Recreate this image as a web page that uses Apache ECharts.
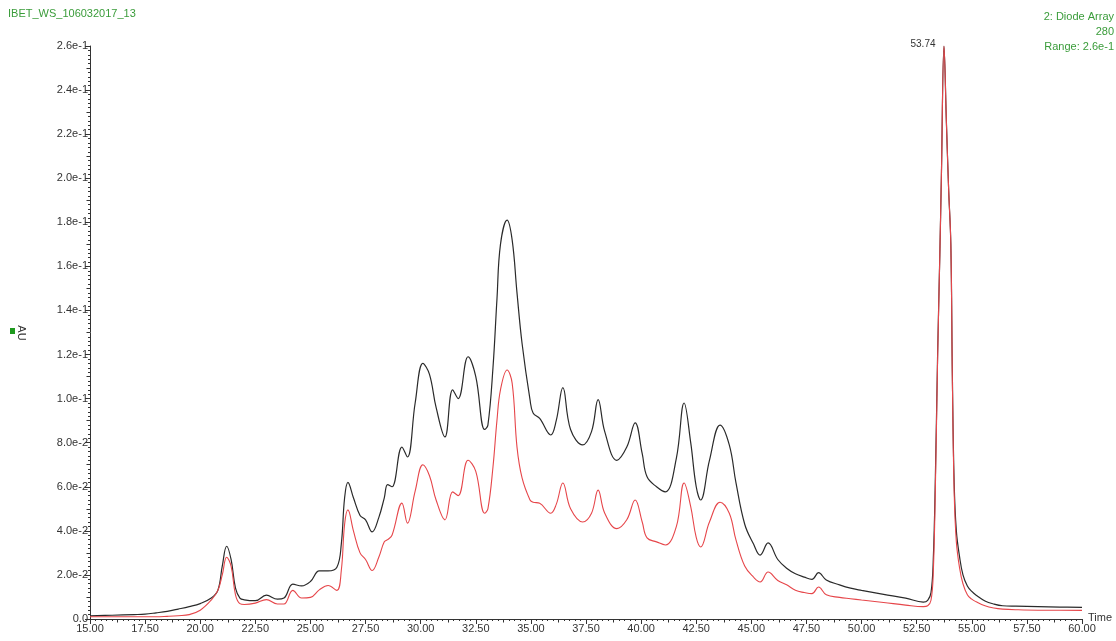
<!DOCTYPE html>
<html>
<head>
<meta charset="utf-8">
<script src="https://cdn.jsdelivr.net/npm/echarts@6/dist/echarts.min.js"></script>
<style>html,body{margin:0;padding:0;background:#fff;}#c{width:1116px;height:641px;}</style>
</head>
<body>
<div id="c"></div>
<script>
// Retention time (min)
var timeMin = [15.0,16.0,17.0,17.5,18.0,18.5,19.0,19.5,20.0,20.5,20.8,21.0,21.2,21.4,21.6,21.8,22.0,22.5,23.0,23.5,23.8,24.2,24.6,25.0,25.4,25.8,26.2,26.4,26.55,26.7,26.95,27.25,27.5,27.8,28.1,28.35,28.5,28.7,29.15,29.4,29.75,30.1,30.4,30.7,31.1,31.45,31.7,32.15,32.5,32.9,33.05,33.28,33.46,33.62,33.92,34.15,34.37,34.6,34.96,35.1,35.4,35.9,36.15,36.45,36.8,37.35,37.75,38.05,38.35,38.9,39.35,39.73,40.05,40.27,40.7,41.1,41.6,41.95,42.25,42.5,42.7,43.1,43.58,44.0,44.3,44.7,45.1,45.4,45.76,46.2,46.6,47.0,47.4,47.75,48.05,48.4,49.0,49.5,50.0,51.0,52.0,52.8,53.0,53.15,53.25,53.35,53.45,53.55,53.62,53.74,53.85,53.95,54.05,54.12,54.2,54.3,54.45,54.6,54.8,55.0,55.2,55.6,56.0,56.4,57.0,58.0,59.0,60.0];
// Black trace (AU)
var blackAU = [0.0014,0.0017,0.0020,0.0022,0.0028,0.0035,0.0045,0.0056,0.0070,0.0095,0.0130,0.0240,0.0330,0.0270,0.0140,0.0095,0.0087,0.0083,0.0108,0.0090,0.0095,0.0158,0.0150,0.0170,0.0218,0.0218,0.0235,0.0340,0.0550,0.0620,0.0550,0.0470,0.0450,0.0395,0.0460,0.0550,0.0610,0.0600,0.0780,0.0735,0.0980,0.1160,0.1110,0.0960,0.0826,0.1040,0.1000,0.1190,0.1100,0.0860,0.0880,0.1140,0.1450,0.1700,0.1810,0.1720,0.1480,0.1250,0.0995,0.0935,0.0910,0.0835,0.0900,0.1050,0.0860,0.0790,0.0850,0.0995,0.0850,0.0720,0.0780,0.0890,0.0750,0.0645,0.0600,0.0577,0.0730,0.0980,0.0800,0.0600,0.0540,0.0720,0.0880,0.0790,0.0620,0.0430,0.0340,0.0290,0.0345,0.0270,0.0230,0.0205,0.0190,0.0180,0.0210,0.0177,0.0155,0.0140,0.0130,0.0112,0.0095,0.0077,0.0085,0.0120,0.0260,0.0650,0.1200,0.1650,0.2000,0.2600,0.2250,0.1950,0.1700,0.1100,0.0620,0.0400,0.0280,0.0200,0.0150,0.0125,0.0108,0.0082,0.0068,0.0060,0.0058,0.0056,0.0054,0.0053];
// Red trace (AU)
var redAU = [0.0010,0.0010,0.0010,0.0010,0.0010,0.0012,0.0015,0.0020,0.0040,0.0086,0.0130,0.0200,0.0280,0.0240,0.0110,0.0070,0.0066,0.0072,0.0088,0.0068,0.0068,0.0130,0.0095,0.0098,0.0132,0.0152,0.0130,0.0220,0.0430,0.0495,0.0400,0.0300,0.0270,0.0220,0.0280,0.0350,0.0360,0.0380,0.0526,0.0435,0.0580,0.0700,0.0650,0.0540,0.0450,0.0577,0.0560,0.0720,0.0670,0.0480,0.0500,0.0690,0.0900,0.1040,0.1130,0.1070,0.0780,0.0640,0.0540,0.0530,0.0525,0.0480,0.0520,0.0617,0.0500,0.0440,0.0480,0.0585,0.0480,0.0410,0.0450,0.0540,0.0440,0.0368,0.0350,0.0336,0.0420,0.0617,0.0510,0.0370,0.0327,0.0440,0.0530,0.0480,0.0360,0.0240,0.0190,0.0168,0.0213,0.0175,0.0155,0.0130,0.0120,0.0115,0.0145,0.0110,0.0098,0.0092,0.0086,0.0075,0.0063,0.0056,0.0060,0.0085,0.0200,0.0600,0.1180,0.1650,0.2000,0.2600,0.2250,0.1950,0.1700,0.1080,0.0580,0.0350,0.0230,0.0160,0.0110,0.0090,0.0078,0.0060,0.0050,0.0045,0.0042,0.0040,0.0040,0.0039];
// Axis ranges / tick steps
var xRange = [15, 60], xStep = 2.5;
var yRange = [0, 0.26], yStep = 0.02;
var titleLeft = 'IBET_WS_106032017_13';
var titleRight = ['2: Diode Array', '280', 'Range: 2.6e-1'];
var peakLabel = '53.74';
var xName = 'Time', yName = 'AU';

function pairs(ys){ return timeMin.map(function(t,i){ return [t, ys[i]]; }); }
var apexIdx = blackAU.indexOf(Math.max.apply(null, blackAU));

var FONT = 'Liberation Sans, Arial, sans-serif';
var GREEN = '#3a9c3a';
var chart = echarts.init(document.getElementById('c'), null, {renderer:'canvas'});
chart.setOption({
  animation: false,
  backgroundColor: '#fff',
  grid: {left: 90, right: 34, top: 46, bottom: 22, containLabel: false, outerBoundsMode: 'none'},
  xAxis: [{
    type: 'value', min: xRange[0], max: xRange[1], interval: xStep,
    axisLine: {show: true, lineStyle: {color: '#333', width: 1}},
    axisTick: {show: true, length: 5, lineStyle: {color: '#333'}},
    minorTick: {show: true, splitNumber: 10, length: 2, lineStyle: {color: '#333'}},
    axisLabel: {fontFamily: FONT, fontSize: 11, color: '#333', margin: 4,
      formatter: function(v){ return v.toFixed(2); }},
    splitLine: {show: false}
  },{
    type: 'value', min: xRange[0], max: xRange[1], interval: xStep/2, position: 'bottom',
    axisLine: {show: false}, axisLabel: {show: false}, splitLine: {show: false},
    axisTick: {show: true, length: 3.5, lineStyle: {color: '#333'}}
  }],
  yAxis: [{
    type: 'value', min: yRange[0], max: yRange[1], interval: yStep,
    axisLine: {show: true, lineStyle: {color: '#333', width: 1}},
    axisTick: {show: true, length: 5, lineStyle: {color: '#333'}},
    minorTick: {show: true, splitNumber: 10, length: 2, lineStyle: {color: '#333'}},
    axisLabel: {fontFamily: FONT, fontSize: 11, color: '#333', margin: 2,
      formatter: function(v){ return v === 0 ? '0.0' : v.toExponential(1); }},
    splitLine: {show: false}
  },{
    type: 'value', min: yRange[0], max: yRange[1], interval: yStep/2, position: 'left',
    axisLine: {show: false}, axisLabel: {show: false}, splitLine: {show: false},
    axisTick: {show: true, length: 3.5, lineStyle: {color: '#333'}}
  }],
  series: [{
    type: 'line', name: 'black', data: pairs(blackAU), xAxisIndex: 0, yAxisIndex: 0,
    showSymbol: false, smooth: 0.4,
    lineStyle: {color: '#2a2a2a', width: 1.2},
    markPoint: {
      symbol: 'circle', symbolSize: 1, itemStyle: {color: 'rgba(0,0,0,0)'},
      label: {show: true, position: 'left', distance: 6, offset: [-2, -2], fontFamily: FONT, fontSize: 10, color: '#333',
        formatter: function(){ return peakLabel; }},
      data: [{coord: [timeMin[apexIdx], blackAU[apexIdx]]}]
    }
  },{
    type: 'line', name: 'red', data: pairs(redAU), xAxisIndex: 0, yAxisIndex: 0,
    showSymbol: false, smooth: 0.4,
    lineStyle: {color: '#e6464a', width: 1.1}
  }],
  graphic: [
    {type: 'text', left: 8, top: 8, style: {text: titleLeft, fill: GREEN, font: '11px ' + FONT}},
    {type: 'text', x: 1114, y: 17, style: {text: titleRight[0], fill: GREEN, font: '11px ' + FONT, textAlign: 'right', textVerticalAlign: 'middle'}},
    {type: 'text', x: 1114, y: 32, style: {text: titleRight[1], fill: GREEN, font: '11px ' + FONT, textAlign: 'right', textVerticalAlign: 'middle'}},
    {type: 'text', x: 1114, y: 47, style: {text: titleRight[2], fill: GREEN, font: '11px ' + FONT, textAlign: 'right', textVerticalAlign: 'middle'}},
    {type: 'text', x: 1088, y: 618, style: {text: xName, fill: '#333', font: '11px ' + FONT, textAlign: 'left', textVerticalAlign: 'middle'}},
    {type: 'rect', shape: {x: 10, y: 328, width: 5, height: 6}, style: {fill: '#1f9a1f'}},
    {type: 'text', x: 21, y: 333, rotation: -Math.PI/2, style: {text: yName, fill: '#333', font: '11px ' + FONT, textAlign: 'center', textVerticalAlign: 'middle'}}
  ]
});
</script>
</body>
</html>
